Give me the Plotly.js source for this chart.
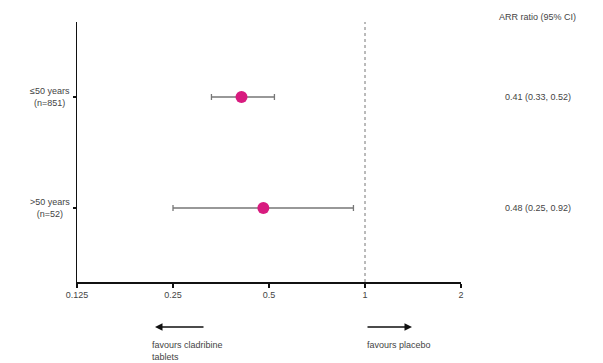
<!DOCTYPE html>
<html><head><meta charset="utf-8">
<script src="https://cdn.plot.ly/plotly-3.0.1.min.js"></script>
<style>html,body{margin:0;padding:0;background:#fff}#c{width:603px;height:363px}</style>
</head><body><div id="c"></div>
<script>
const groups = ["\u226450 years<br>(n=851)", ">50 years<br>(n=52)"];
const ratio = [0.41, 0.48];
const lower = [0.33, 0.25];
const upper = [0.52, 0.92];
const ciText = ["0.41 (0.33, 0.52)", "0.48 (0.25, 0.92)"];
const xTicks = [0.125, 0.25, 0.5, 1, 2];
const xTickText = ["0.125", "0.25", "0.5", "1", "2"];
const header = "ARR ratio (95% CI)";

const yPos = groups.map((g, i) => i);
const trace = {
  type: 'scatter', mode: 'markers',
  x: ratio, y: yPos,
  marker: {color: '#d81b7f', size: 12},
  error_x: {type: 'data', symmetric: false,
    array: ratio.map((r, i) => upper[i] - r),
    arrayminus: ratio.map((r, i) => r - lower[i]),
    color: '#777', thickness: 1.3, width: 3},
  hoverinfo: 'skip'
};
const font = {family: 'Liberation Sans, Arial, sans-serif', size: 9, color: '#444'};
const ann = [
  {xref: 'paper', yref: 'paper', x: 1.2, y: 1.02, text: header, showarrow: false, xanchor: 'center', yanchor: 'middle', font: font}
];
groups.forEach((g, i) => ann.push({xref: 'paper', yref: 'y', x: 0, xshift: -5, y: yPos[i], text: g, showarrow: false, xanchor: 'right', yanchor: 'middle', align: 'center', font: font}));
ciText.forEach((t, i) => ann.push({xref: 'paper', yref: 'y', x: 1.2, y: yPos[i], text: t, showarrow: false, xanchor: 'center', yanchor: 'middle', font: font}));
ann.push({xref: 'paper', yref: 'paper', x: (155-77)/384, y: (282-327)/260, ax: 50, ay: 0, text: '', showarrow: true, arrowhead: 2, arrowsize: 1, arrowwidth: 1.5, arrowcolor: '#111'});
ann.push({xref: 'paper', yref: 'paper', x: (412-77)/384, y: (282-327)/260, ax: -46, ay: 0, text: '', showarrow: true, arrowhead: 2, arrowsize: 1, arrowwidth: 1.5, arrowcolor: '#111'});
ann.push({xref: 'paper', yref: 'paper', x: (150-77)/384, y: (282-338)/260, text: 'favours cladribine<br>tablets', align: 'left', showarrow: false, xanchor: 'left', yanchor: 'top', font: font});
ann.push({xref: 'paper', yref: 'paper', x: (365-77)/384, y: (282-338)/260, text: 'favours placebo', align: 'left', showarrow: false, xanchor: 'left', yanchor: 'top', font: font});

const layout = {
  width: 603, height: 363,
  margin: {l: 77, r: 142, t: 22, b: 81},
  paper_bgcolor: '#fff', plot_bgcolor: '#fff',
  showlegend: false,
  font: font,
  xaxis: {type: 'log', range: [Math.log10(0.125), Math.log10(2)],
    tickvals: xTicks, ticktext: xTickText, showgrid: false, zeroline: false,
    showline: true, linecolor: '#111', linewidth: 1.5, ticks: 'outside', ticklen: 4, tickcolor: '#111', tickwidth: 1.5},
  yaxis: {range: [1.667, -0.676], tickvals: yPos, ticktext: groups.map(() => ''), showgrid: false, zeroline: false,
    showline: true, linecolor: '#111', linewidth: 1.5, ticks: 'outside', ticklen: 3, tickcolor: '#111', tickwidth: 1.5},
  shapes: [{type: 'line', xref: 'x', yref: 'paper', x0: 1, x1: 1, y0: 0, y1: 1, line: {color: '#777', width: 1, dash: 'dot'}}],
  annotations: ann
};
Plotly.newPlot('c', [trace], layout, {displayModeBar: false, staticPlot: true});
</script></body></html>
